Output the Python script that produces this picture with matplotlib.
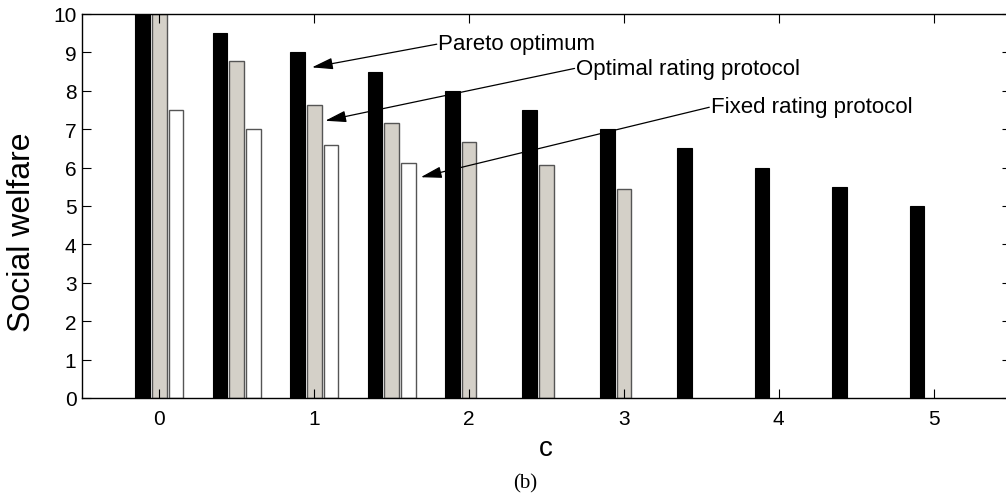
import matplotlib.pyplot as plt
import numpy as np

# data
c_values = [0, 0.5, 1, 1.5, 2, 2.5, 3, 3.5, 4, 4.5, 5]
pareto = [10, 9.5, 9, 8.5, 8, 7.5, 7, 6.5, 6, 5.5, 5]
optimal_rating = [10, 8.78, 7.62, 7.15, 6.66, 6.08, 5.44, None, None, None, None]
fixed_rating = [7.5, 7.0, 6.6, 6.13, None, None, None, None, None, None, None]
x_ticks = [0, 1, 2, 3, 4, 5]
y_ticks = list(range(0, 11))


def as_array(values):
    return np.array([np.nan if v is None else v for v in values], dtype=float)


plt.rcParams['font.family'] = ['Liberation Sans', 'DejaVu Sans']

fig = plt.figure(figsize=(10.06, 5.02), dpi=100)
ax = fig.add_axes([82 / 1006, 1 - 399 / 502, 929 / 1006, 384 / 502])

x = np.array(c_values)
bar_w = 0.095
offset = 0.108
ax.bar(x - offset, as_array(pareto), bar_w, color="black", edgecolor="black", linewidth=0.8)
ax.bar(x, as_array(optimal_rating), bar_w, color="#d4d0c8", edgecolor="#555555", linewidth=1.0)
ax.bar(x + offset, as_array(fixed_rating), bar_w, color="white", edgecolor="#555555", linewidth=1.0)

ax.set_xlim(-0.5, 5.5)
ax.set_ylim(0, 10)
ax.set_xticks(x_ticks)
ax.set_yticks(y_ticks)
ax.tick_params(axis="both", direction="in", length=6.5, width=0.8, labelsize=15,
               top=True, right=True)
ax.tick_params(axis="x", pad=8)
ax.tick_params(axis="y", pad=4)
for sp in ax.spines.values():
    sp.set_linewidth(1.0)

# annotations: (label, arrow tip, text anchor)
notes = [
    ("Pareto optimum", (0.985, 8.61), (1.80, 9.22)),
    ("Optimal rating protocol", (1.071, 7.22), (2.69, 8.59)),
    ("Fixed rating protocol", (1.688, 5.75), (3.56, 7.58)),
]
for label, tip, txt in notes:
    ax.annotate(label, xy=tip, xytext=txt, ha="left", va="center", fontsize=16,
                arrowprops=dict(arrowstyle="-|>,head_length=0.8,head_width=0.22",
                                color="black", lw=0.9, shrinkA=1, shrinkB=0,
                                relpos=(0, 0.5), patchA=None))

fig.text(22 / 1006, 1 - 232 / 502, "Social welfare", rotation=90, ha="center",
         va="center", fontsize=23)
fig.text(546 / 1006, 1 - 449 / 502, "c", ha="center", va="center", fontsize=20)
fig.text(525 / 1006, 1 - 484 / 502, "(b)", ha="center", va="center", fontsize=15,
         family=["Liberation Serif", "DejaVu Serif"])

fig.savefig("out.png", dpi=100)
